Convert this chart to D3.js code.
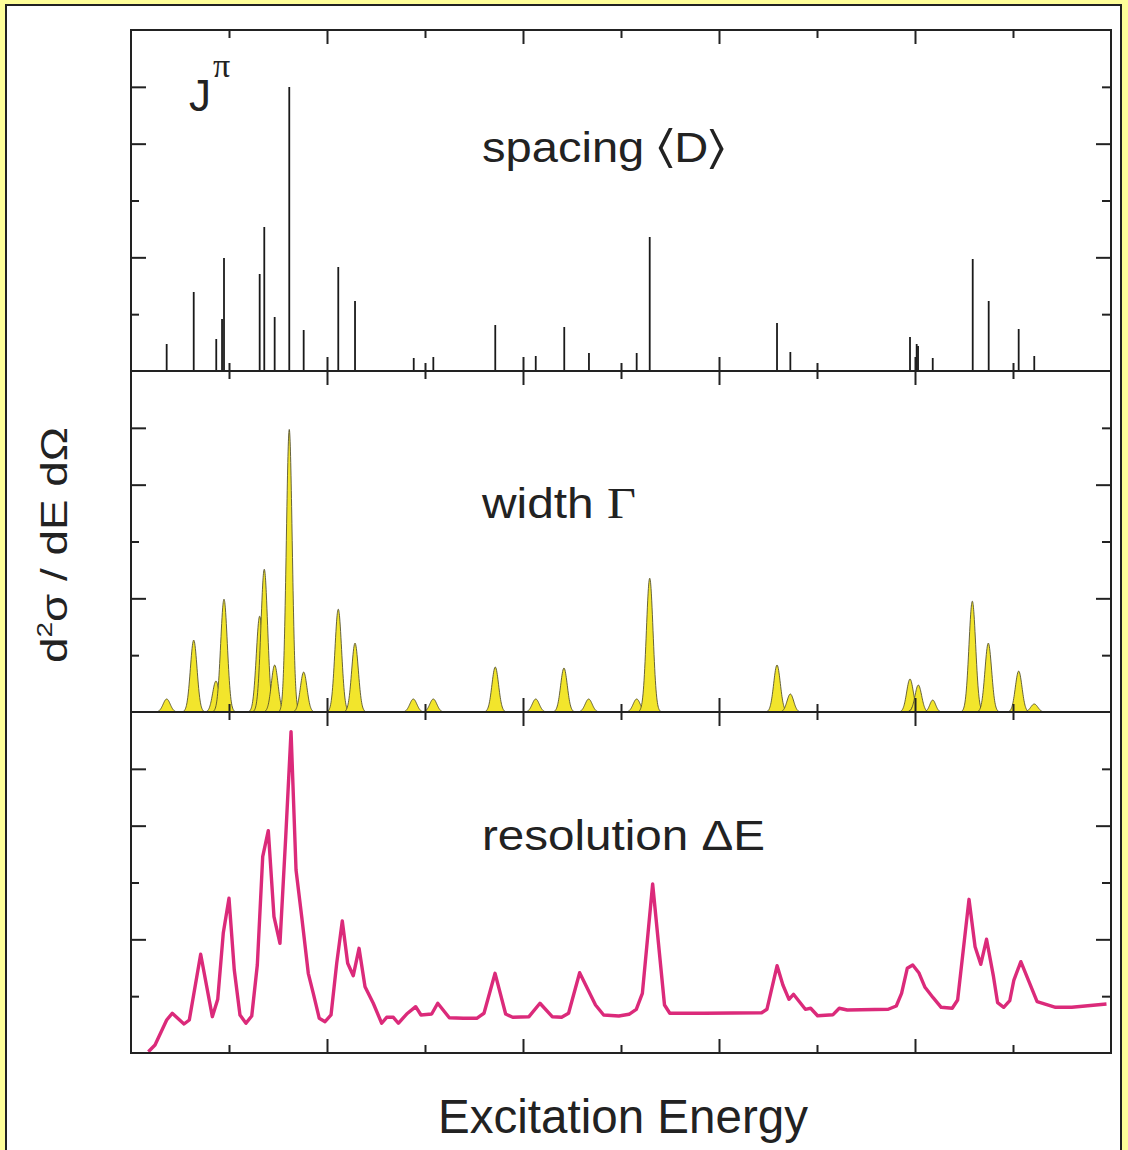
<!DOCTYPE html>
<html>
<head>
<meta charset="utf-8">
<script src="https://cdn.jsdelivr.net/npm/d3@7"></script>
<style>
  html, body { margin: 0; padding: 0; background: #ffff99; }
  svg { display: block; }
</style>
</head>
<body>
<script>
// ---------------- DATA ----------------
// Excitation energy axis (arbitrary units 0..10), intensity axis 0..6 per panel
const xTicks = [1, 2, 3, 4, 5, 6, 7, 8, 9];
const yTicks = [1, 2, 3, 4, 5];

// Panel 1: level spacing <D> — discrete levels (position, strength)
const levelE = [0.364, 0.640, 0.870, 0.929, 0.949, 1.313, 1.360, 1.466, 1.615, 1.762,
                2.115, 2.286, 2.885, 3.085, 3.717, 4.130, 4.421, 4.673, 5.160, 5.293,
                6.592, 6.728, 7.949, 8.017, 8.031, 8.181, 8.589, 8.752, 9.058, 9.217];
const levelS = [0.475, 1.39, 0.563, 0.915, 1.99, 1.707, 2.534, 0.950, 4.997, 0.721,
                1.830, 1.232, 0.229, 0.246, 0.809, 0.264, 0.774, 0.317, 0.317, 2.358,
                0.845, 0.334, 0.598, 0.475, 0.44, 0.229, 1.971, 1.232, 0.739, 0.264];

// Panel 2: width Γ — resonances (centre, peak height, width)
const resE = [0.364, 0.640, 0.867, 0.949, 1.313, 1.360, 1.466, 1.615, 1.762, 2.115,
              2.286, 2.881, 3.085, 3.717, 4.130, 4.418, 4.670, 5.160, 5.293, 6.592,
              6.728, 7.949, 8.017, 8.034, 8.181, 8.585, 8.748, 9.058, 9.217];
const resH = [0.229, 1.267, 0.545, 1.988, 1.689, 2.516, 0.827, 4.98, 0.704, 1.812,
              1.214, 0.229, 0.229, 0.792, 0.229, 0.774, 0.229, 0.229, 2.358, 0.827,
              0.317, 0.581, 0.211, 0.475, 0.211, 1.953, 1.214, 0.721, 0.141];
const resW = [0.036, 0.034, 0.034, 0.034, 0.034, 0.034, 0.034, 0.030, 0.034, 0.034,
              0.034, 0.036, 0.036, 0.034, 0.036, 0.034, 0.036, 0.036, 0.034, 0.034,
              0.034, 0.034, 0.034, 0.034, 0.030, 0.034, 0.034, 0.034, 0.036];

// Panel 3: resolution ΔE — measured spectrum
const specE = [0.177, 0.245, 0.364, 0.421, 0.541, 0.595, 0.711, 0.830, 0.885, 0.942,
               1.000, 1.054, 1.112, 1.173, 1.232, 1.289, 1.344, 1.401, 1.459, 1.520,
               1.579, 1.633, 1.684, 1.742, 1.809, 1.860, 1.921, 1.980, 2.041, 2.099,
               2.156, 2.211, 2.268, 2.327, 2.388, 2.472, 2.558, 2.609, 2.677, 2.728,
               2.813, 2.905, 2.959, 3.068, 3.130, 3.248, 3.391, 3.528, 3.602, 3.715,
               3.823, 3.895, 4.061, 4.173, 4.298, 4.394, 4.465, 4.578, 4.740, 4.823,
               4.978, 5.082, 5.156, 5.218, 5.323, 5.444, 5.498, 5.852, 6.435, 6.489,
               6.593, 6.652, 6.714, 6.760, 6.881, 6.935, 7.006, 7.164, 7.227, 7.309,
               7.727, 7.809, 7.863, 7.921, 7.977, 8.039, 8.102, 8.185, 8.267, 8.380,
               8.435, 8.551, 8.613, 8.671, 8.730, 8.801, 8.843, 8.905, 8.967, 9.009,
               9.080, 9.163, 9.246, 9.434, 9.600, 9.954];
const specI = [0.023, 0.141, 0.581, 0.699, 0.510, 0.581, 1.737, 0.639, 0.945, 2.117,
               2.722, 1.460, 0.669, 0.523, 0.651, 1.548, 3.454, 3.912, 2.398, 1.930,
               3.806, 5.654, 3.220, 2.398, 1.402, 1.050, 0.611, 0.551, 0.669, 1.578,
               2.323, 1.578, 1.360, 1.842, 1.167, 0.875, 0.523, 0.628, 0.628, 0.523,
               0.686, 0.815, 0.669, 0.686, 0.875, 0.621, 0.611, 0.611, 0.699, 1.402,
               0.686, 0.628, 0.639, 0.875, 0.639, 0.628, 0.699, 1.413, 0.845, 0.669,
               0.651, 0.681, 0.769, 1.050, 2.974, 0.845, 0.699, 0.699, 0.709, 0.769,
               1.536, 1.197, 0.945, 1.033, 0.769, 0.787, 0.656, 0.674, 0.787, 0.757,
               0.769, 0.827, 1.050, 1.490, 1.548, 1.413, 1.156, 0.973, 0.804, 0.787,
               0.933, 2.704, 1.870, 1.561, 2.001, 1.343, 0.885, 0.804, 0.920, 1.284,
               1.607, 1.255, 0.903, 0.804, 0.804, 0.862];

const panelLabels = [["spacing ", "\u2329", "D", "\u232A"], ["width ", "\u0393"], ["resolution ", "\u0394E"]];
const xLabel = "Excitation Energy";

// ---------------- LAYOUT ----------------
const W = 1128, H = 1150;
const L = 131, R = 1111;
const panelTops = [30, 371, 712];
const panelH = 341;

const svg = d3.select("body").append("svg").attr("width", W).attr("height", H);

// white page frame
svg.append("rect").attr("x", 6).attr("y", 5).attr("width", 1115).attr("height", 1160)
  .attr("fill", "#ffffff").attr("stroke", "#222").attr("stroke-width", 2);

const x = d3.scaleLinear().domain([0, 10]).range([L, R]);
const ys = panelTops.map(t => d3.scaleLinear().domain([0, 6]).range([t + panelH, t]));

const defs = svg.append("defs");
panelTops.forEach((t, i) => {
  defs.append("clipPath").attr("id", "clip" + i).append("rect")
    .attr("x", L).attr("y", t).attr("width", R - L).attr("height", panelH);
});

// ---------- Panel 1: spacing lines ----------
const g1 = svg.append("g").attr("clip-path", "url(#clip0)");
g1.selectAll("line").data(levelE).join("line")
  .attr("x1", d => x(d)).attr("x2", d => x(d))
  .attr("y1", ys[0](0)).attr("y2", (d, i) => ys[0](levelS[i]))
  .attr("stroke", "#1a1a1a").attr("stroke-width", 1.8);

// ---------- Panel 2: resonance peaks ----------
const g2 = svg.append("g").attr("clip-path", "url(#clip1)");
const area = d3.area().x(d => x(d[0])).y0(ys[1](0)).y1(d => ys[1](d[1])).curve(d3.curveBasis);
const peaks = resE.map((c, i) => {
  const s = resW[i], h = resH[i];
  return d3.range(-4, 4.001, 0.1).map(k => [c + k * s, h * Math.exp(-0.5 * k * k)]);
});
g2.selectAll("path").data(peaks).join("path")
  .attr("d", area)
  .attr("fill", "#f2e52c")
  .attr("stroke", "#4d4a2a").attr("stroke-width", 1).attr("stroke-opacity", 0.85);

// ---------- Panel 3: resolution spectrum ----------
const g3 = svg.append("g").attr("clip-path", "url(#clip2)");
const specData = specE.map((e, i) => [e, specI[i]]);
g3.append("path").datum(specData)
  .attr("d", d3.line().x(d => x(d[0])).y(d => ys[2](d[1])))
  .attr("fill", "none").attr("stroke", "#db2a7a").attr("stroke-width", 3.4)
  .attr("stroke-linejoin", "round");

// ---------- Axes / frames ----------
const ax = svg.append("g");
panelTops.forEach((t, i) => {
  const y = ys[i];
  const b = t + panelH;
  const xb = d3.axisTop(x).tickValues(xTicks).tickFormat("").tickSizeOuter(0);
  const gb = ax.append("g").attr("transform", `translate(0,${b})`).call(xb);
  gb.selectAll(".tick line").attr("y2", d => d % 2 === 0 ? -14 : -8);
  const xt = d3.axisBottom(x).tickValues(xTicks).tickFormat("").tickSizeOuter(0);
  const gt = ax.append("g").attr("transform", `translate(0,${t})`).call(xt);
  gt.selectAll(".tick line").attr("y2", d => d % 2 === 0 ? 14 : 8);
  const yl = d3.axisRight(y).tickValues(yTicks).tickFormat("").tickSizeOuter(0);
  const gl = ax.append("g").attr("transform", `translate(${L},0)`).call(yl);
  gl.selectAll(".tick line").attr("x2", d => (d % 2 === 0 || d === 5) ? 15 : 8);
  const yr = d3.axisLeft(y).tickValues(yTicks).tickFormat("").tickSizeOuter(0);
  const gr = ax.append("g").attr("transform", `translate(${R},0)`).call(yr);
  gr.selectAll(".tick line").attr("x2", d => d % 2 === 0 ? -15 : -9);
  [gb, gt, gl, gr].forEach(g => {
    g.select(".domain").remove();
    g.selectAll(".tick line").attr("stroke", "#222").attr("stroke-width", 2);
  });
});
ax.append("rect").attr("x", L).attr("y", panelTops[0]).attr("width", R - L).attr("height", panelH * 3)
  .attr("fill", "none").attr("stroke", "#222").attr("stroke-width", 2);
[1, 2].forEach(i => {
  ax.append("line").attr("x1", L).attr("x2", R).attr("y1", panelTops[i]).attr("y2", panelTops[i])
    .attr("stroke", "#222").attr("stroke-width", 2);
});

// ---------- Text ----------
const FONT = "'Liberation Sans', Arial, Helvetica, sans-serif";
const SERIF = "'Liberation Serif', 'Times New Roman', serif";
function fitText(tx, ty, size, targetW, str, rot, anchor) {
  const g = svg.append("g");
  const t = g.append("text").attr("x", 0).attr("y", 0)
    .attr("font-family", FONT).attr("font-size", size).attr("fill", "#222")
    .attr("text-anchor", anchor || "start");
  if (typeof str === "function") str(t); else t.text(str);
  const w = t.node().getComputedTextLength();
  const k = targetW / w;
  g.attr("transform", `translate(${tx},${ty}) rotate(${rot || 0}) scale(${k},1)`);
  return g;
}

fitText(482, 162, 42, 243, t => {
  t.append("tspan").text(panelLabels[0][0]);
  t.append("tspan").attr("font-family", "'DejaVu Sans', sans-serif").attr("font-weight", 200)
    .attr("font-size", 46).text(panelLabels[0][1]);
  t.append("tspan").text(panelLabels[0][2]);
  t.append("tspan").attr("font-family", "'DejaVu Sans', sans-serif").attr("font-weight", 200)
    .attr("font-size", 46).text(panelLabels[0][3]);
});
fitText(482, 518, 42, 154, t => {
  t.append("tspan").text(panelLabels[1][0]);
  t.append("tspan").attr("font-family", SERIF).attr("font-size", 44).text(panelLabels[1][1]);
});
fitText(482, 850, 42, 283, t => {
  t.append("tspan").text(panelLabels[2][0]);
  t.append("tspan").text(panelLabels[2][1]);
});
fitText(438, 1133, 47.5, 370, xLabel);

// y-axis label, rotated
fitText(67, 545, 36, 236, t => {
  t.append("tspan").text("d");
  t.append("tspan").attr("font-size", 22).attr("dy", -15).text("2");
  t.append("tspan").attr("dy", 15).text("\u03C3 / dE d\u03A9");
}, -90, "middle");

// J^pi
svg.append("text").attr("x", 189).attr("y", 111)
  .attr("font-family", FONT).attr("font-size", 44).attr("fill", "#222").text("J");
svg.append("text").attr("x", 213).attr("y", 77)
  .attr("font-family", SERIF).attr("font-size", 34)
  .attr("fill", "#222").text("\u03C0");
</script>
</body>
</html>
